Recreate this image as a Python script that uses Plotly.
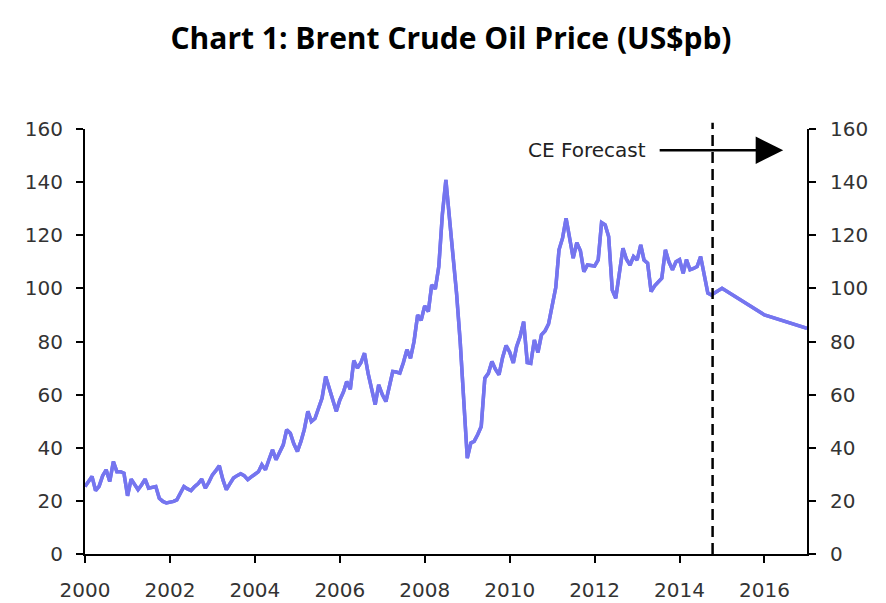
import plotly.graph_objects as go
import pandas as pd

# Brent monthly prices, Jan 2000 .. Oct 2014 (US$ per barrel)
brent_2000 = [25.4, 27.5, 29.2, 23.9, 25.5, 29.5, 31.7, 27.3, 34.8, 31.0, 31.0, 30.4]
brent_2001 = [21.9, 28.2, 26.0, 24.2, 26.0, 28.2, 24.8, 25.0, 25.4, 21.0, 19.8, 19.2]
brent_2002 = [19.4, 19.8, 20.4, 23.0, 25.4, 24.5, 23.9, 25.4, 26.5, 28.2, 24.8, 27.0]
brent_2003 = [29.8, 31.5, 33.2, 28.0, 24.2, 26.5, 28.6, 29.5, 30.2, 29.5, 28.0, 29.0]
brent_2004 = [30.0, 31.0, 33.6, 31.7, 35.5, 39.2, 35.5, 38.0, 41.1, 46.8, 45.5, 41.5]
brent_2005 = [38.6, 42.5, 46.8, 53.7, 49.9, 51.0, 55.0, 58.7, 66.8, 62.5, 58.0, 53.7]
brent_2006 = [58.0, 61.0, 64.9, 62.0, 72.8, 70.0, 72.0, 75.6, 68.0, 62.0, 56.2, 63.7]
brent_2007 = [60.0, 57.4, 63.0, 68.7, 68.5, 68.1, 72.0, 76.9, 73.7, 80.0, 90.0, 88.0]
brent_2008 = [93.4, 91.3, 101.3, 99.8, 108.2, 128.0, 140.8, 127.0, 113.0, 98.0, 80.0, 59.0]
brent_2009 = [36.1, 41.8, 42.4, 45.0, 48.0, 66.2, 68.0, 72.5, 69.5, 67.5, 74.0, 78.5]
brent_2010 = [76.0, 71.9, 78.0, 82.0, 87.5, 72.1, 71.8, 80.6, 75.9, 82.5, 84.0, 86.6]
brent_2011 = [94.0, 100.3, 114.5, 119.0, 126.4, 118.0, 111.4, 117.2, 114.2, 106.3, 108.8, 108.6]
brent_2012 = [108.4, 110.7, 124.8, 123.9, 119.5, 99.4, 96.3, 105.7, 115.1, 111.0, 108.8, 112.0]
brent_2013 = [110.7, 116.4, 110.7, 109.5, 98.8, 101.0, 102.6, 103.8, 114.5, 110.0, 107.0, 110.0]
brent_2014 = [110.8, 105.7, 110.8, 107.0, 107.5, 108.2, 112.0, 105.0, 98.2, 97.5]

# CE forecast (end-year)
forecast_dates = ["2015-01-01", "2016-01-01", "2017-01-01"]
forecast_values = [100, 90, 85]

history = (brent_2000 + brent_2001 + brent_2002 + brent_2003 + brent_2004 +
           brent_2005 + brent_2006 + brent_2007 + brent_2008 + brent_2009 +
           brent_2010 + brent_2011 + brent_2012 + brent_2013 + brent_2014)
history_dates = pd.date_range("2000-01-01", periods=len(history), freq="MS")

dates = list(history_dates.strftime("%Y-%m-%d")) + forecast_dates
values = history + forecast_values

forecast_start = "2014-10-12"

tick_font = dict(family="DejaVu Sans", size=20, color="#333333")
line_style = dict(color="#7575EF", width=3.5)

fig = go.Figure()
fig.add_trace(go.Scatter(x=dates, y=values, mode="lines",
                         line=line_style, showlegend=False))
# same series on the right-hand axis so that axis gets drawn
fig.add_trace(go.Scatter(x=dates, y=values, mode="lines", yaxis="y2",
                         line=line_style, showlegend=False, hoverinfo="skip"))

axis_style = dict(showline=True, linecolor="black", linewidth=2,
                  ticks="outside", ticklen=7, tickwidth=2, tickcolor="black",
                  showgrid=False, zeroline=False, tickfont=tick_font,
                  automargin=False)

fig.update_layout(
    width=886, height=603,
    margin=dict(l=77, r=87, t=121, b=57),
    paper_bgcolor="white", plot_bgcolor="white",
    title=dict(text="<b>Chart 1: Brent Crude Oil Price (US$pb)</b>",
               x=0.5, xanchor="center", y=0.949, yanchor="middle",
               font=dict(family="Open Sans", size=30, color="black")),
    xaxis=dict(type="date", range=["2000-01-01", "2017-01-01"],
               dtick="M24", tick0="2000-01-01", tickformat="%Y",
               ticklabelstandoff=10, **axis_style),
    yaxis=dict(range=[0, 160], dtick=20, ticklabelstandoff=9, **axis_style),
    yaxis2=dict(range=[0, 160], dtick=20, overlaying="y", side="right",
                ticklabelstandoff=10, **axis_style),
    shapes=[dict(type="line", xref="x", yref="paper",
                 x0=forecast_start, x1=forecast_start, y0=0, y1=1.015,
                 line=dict(color="black", width=2.5, dash="11px,6px"))],
    annotations=[
        dict(text="CE Forecast", xref="paper", yref="y", x=0.780, y=152,
             xanchor="right", yanchor="middle", showarrow=False,
             font=dict(family="DejaVu Sans", size=20, color="#222222")),
        dict(text="", xref="paper", yref="y", x=0.967, y=152,
             ax=-125, ay=0, showarrow=True, arrowhead=2, arrowsize=2.2,
             arrowwidth=2.5, arrowcolor="black", standoff=0),
    ],
)

fig.write_html("out.html")
